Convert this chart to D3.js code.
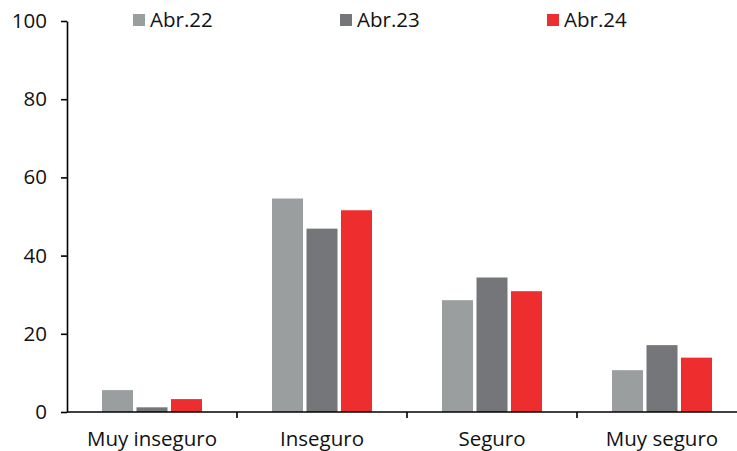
<!DOCTYPE html>
<html>
<head>
<meta charset="utf-8">
<script src="https://cdn.jsdelivr.net/npm/d3@7"></script>
<style>
  html, body { margin: 0; padding: 0; background: #fff; }
  svg { display: block; font-family: "Open Sans", "Noto Sans", sans-serif; }
</style>
</head>
<body>
<svg id="chart" width="737" height="451"></svg>
<script>
// Perception of safety by category, three survey waves
const categories = ["Muy inseguro", "Inseguro", "Seguro", "Muy seguro"];
const seriesNames = ["Abr.22", "Abr.23", "Abr.24"];
const abr22 = [5.6, 54.6, 28.6, 10.7];
const abr23 = [1.2, 46.9, 34.4, 17.1];
const abr24 = [3.3, 51.6, 30.9, 13.9];
const yTicks = [0, 20, 40, 60, 80, 100];
const colors = ["#9b9e9e", "#747679", "#ee2e2e"];

const seriesValues = [abr22, abr23, abr24];
const fontSize = 20.5;

const svg = d3.select("#chart");
const margin = { left: 67, top: 21, bottom: 39 };
const height = 451;
const bandW = 170;

const x = d3.scaleBand()
  .domain(categories)
  .range([margin.left, margin.left + bandW * categories.length])
  .paddingInner(0).paddingOuter(0);

const y = d3.scaleLinear()
  .domain([0, 100])
  .range([height - margin.bottom, margin.top]);

const xs = d3.scaleBand()
  .domain(seriesNames)
  .range([0, 100])
  .paddingInner(0.1);

// Bars
const groups = svg.append("g").selectAll("g")
  .data(categories)
  .join("g")
  .attr("transform", d => `translate(${x(d) + (x.bandwidth() - 100) / 2},0)`);

groups.selectAll("rect")
  .data((c, i) => seriesNames.map((s, k) => ({ s, k, v: seriesValues[k][i] })))
  .join("rect")
  .attr("x", d => xs(d.s))
  .attr("width", xs.bandwidth())
  .attr("y", d => y(d.v))
  .attr("height", d => y(0) - y(d.v))
  .attr("fill", d => colors[d.k]);

// Y axis
const yAxis = svg.append("g")
  .attr("transform", `translate(${margin.left},0)`)
  .call(d3.axisLeft(y).tickValues(yTicks).tickSize(6).tickSizeOuter(0).tickPadding(14));
yAxis.select(".domain").attr("stroke", "#000").attr("stroke-width", 1.6);
yAxis.selectAll(".tick line").attr("stroke", "#000").attr("stroke-width", 1.6);
yAxis.selectAll(".tick text").attr("font-size", fontSize).attr("fill", "#111")
  .attr("font-family", "'Open Sans', sans-serif");

// X axis
const xAxisG = svg.append("g")
  .attr("transform", `translate(0,${y(0)})`);
xAxisG.append("line")
  .attr("x1", margin.left).attr("x2", 737)
  .attr("stroke", "#000").attr("stroke-width", 1.6);
xAxisG.selectAll("line.tk")
  .data(categories.slice(1))
  .join("line")
  .attr("class", "tk")
  .attr("x1", d => x(d)).attr("x2", d => x(d))
  .attr("y1", 0).attr("y2", 6)
  .attr("stroke", "#000").attr("stroke-width", 1.6);
xAxisG.selectAll("text")
  .data(categories)
  .join("text")
  .attr("x", d => x(d) + x.bandwidth() / 2)
  .attr("y", 34)
  .attr("text-anchor", "middle")
  .attr("font-size", fontSize)
  .attr("fill", "#111")
  .text(d => d);

// Legend
const legendX = [133, 340, 547];
const legend = svg.append("g").selectAll("g")
  .data(seriesNames)
  .join("g")
  .attr("transform", (d, i) => `translate(${legendX[i]},0)`);
legend.append("rect")
  .attr("x", 0).attr("y", 14)
  .attr("width", 12).attr("height", 12)
  .attr("fill", (d, i) => colors[i]);
legend.append("text")
  .attr("x", 17).attr("y", 27)
  .attr("font-size", fontSize)
  .attr("fill", "#111")
  .text(d => d);
</script>
</body>
</html>
